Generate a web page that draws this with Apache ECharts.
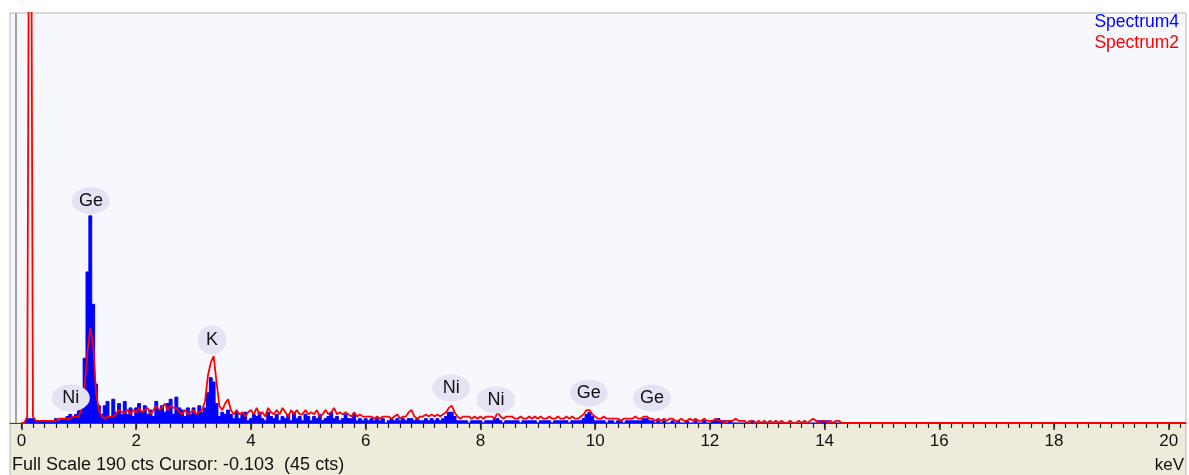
<!DOCTYPE html>
<html>
<head>
<meta charset="utf-8">
<script src="https://cdn.jsdelivr.net/npm/echarts@6/dist/echarts.min.js"></script>
<style>
  html, body { margin: 0; padding: 0; background: #ffffff; }
  #chart { width: 1189px; height: 475px; }
</style>
</head>
<body>
<div id="chart"></div>
<script>
// ---- data -------------------------------------------------------------
// channel width of the spectra below (keV); first channel at 0 keV
const channelKeV = 0.05;
const spectrumEndKeV = 20.3;

// Spectrum4 (blue), counts per 0.05 keV channel, 0.00 .. 14.50 keV
const spectrum4 = [
  0,0,2,2,2,1,1,1,1,1, 1,1,2,1,2,2,3,4,3,4,
  7,12,30,70,96,55,18,8,4,8, 10,3,11,5,9,4,10,4,7,3,
  7,9,5,8,4,6,3,10,6,8, 5,9,11,4,12,7,6,3,7,4,
  7,4,8,5,7,14,21,19,9,3, 5,4,6,4,2,5,2,4,5,1,
  2,4,3,5,2,1,5,3,2,4, 1,3,2,4,1,5,2,3,1,4,
  3,1,3,2,4,1,2,3,5,2, 3,1,2,4,2,2,4,1,2,1,
  2,1,2,1,2,1,2,0,1,2, 1,2,1,2,1,2,2,1,2,1,
  1,2,1,2,1,2,1,2,3,5, 5,3,1,1,1,1,0,1,1,1,
  1,0,1,1,1,2,2,1,0,1, 1,1,1,1,0,1,1,1,1,1,
  0,1,1,1,1,0,1,1,1,1, 1,0,1,1,1,1,2,4,5,3,
  1,1,1,1,0,1,1,0,1,1, 0,1,1,1,1,1,1,2,2,1,
  1,0,1,0,1,0,0,1,0,1, 0,0,1,0,0,1,0,0,1,0,
  0,1,1,2,1,1,0,1,0,0, 0,0,0,0,0,1,0,0,0,0,
  0,0,0,0,0,0,0,0,0,0, 0,0,0,0,0,0,0,0,1,1,
  1,1,0,0,0,0,0,0,0,0,0
];

// Spectrum2 (red), counts per 0.05 keV channel, 0.00 .. 14.50 keV
const spectrum2 = [
  0,0,3,400,3,1,1,1,1,1, 1,1,1,2,2,2,2,2,3,3,
  3,7,16,33,44,36,14,6,3,2, 3,3,3,4,6,5,5,6,4,6,
  5,7,5,6,7,4,6,8,6,7, 9,6,8,7,7,5,4,6,4,5,
  6,4,5,6,10,22,28,31,19,8, 6,9,11,6,4,6,4,5,3,5,
  6,4,7,4,5,3,7,5,4,6, 4,7,5,3,6,4,6,4,4,6,
  4,5,4,6,3,4,6,4,5,7, 4,5,4,5,4,3,5,3,4,3,
  3,3,3,2,3,2,3,3,3,2, 3,4,2,3,3,5,6,3,2,3,
  3,4,3,4,3,4,3,4,5,7, 8,5,3,2,3,3,3,2,3,2,
  3,2,3,3,3,2,5,3,2,3, 3,3,2,2,3,2,2,3,2,3,
  2,3,2,2,3,2,2,3,2,2, 3,2,3,2,2,3,4,6,6,4,
  3,2,2,3,2,2,2,2,2,1, 2,2,2,2,3,2,2,3,3,2,
  2,1,2,1,2,1,2,2,1,1, 2,1,1,2,1,2,1,1,2,1,
  1,1,2,1,1,0,1,1,1,2, 1,1,1,0,1,1,0,1,0,1,
  0,1,0,1,0,1,0,0,1,0, 0,1,0,1,0,1,2,1,0,1,
  1,0,1,0,1,1,0,0,0,0,0
];

// peak identification labels
const peakNames    = ['Ni', 'Ge', 'K', 'Ni', 'Ni', 'Ge', 'Ge'];
const peakKeV      = [0.86, 1.21, 3.32, 7.49, 8.27, 9.89, 10.99];
const peakLabelCts = [11.6, 103, 38.5, 16.2, 10.7, 13.9, 11.6];

// axis
const tickLabels = [0, 2, 4, 6, 8, 10, 12, 14, 16, 18, 20];
const fullScaleCts = 190;
const cursorKeV = -0.103;
const cursorCts = 45;
const legendNames = ['Spectrum4', 'Spectrum2'];

// ---- build ------------------------------------------------------------
const toPairs = arr => arr.map((v, i) => [Math.round(i * channelKeV * 100) / 100, v]);
const blueData = toPairs(spectrum4);
const redData = toPairs(spectrum2).concat([[spectrumEndKeV, 0]]);

const minorTicks = [];
for (let k = 0; k <= 101; k++) minorTicks.push(Math.round(k * 2) / 10);

const labelData = peakNames.map((n, i) => ({
  value: [peakKeV[i], peakLabelCts[i]],
  name: n,
  symbolSize: n === 'K' ? [29, 29] : [n.length * 17 + 4, 27]
}));

const FONT = '"Liberation Sans", Arial, Helvetica, sans-serif';
const chart = echarts.init(document.getElementById('chart'), null, { renderer: 'canvas' });

const xMin = -0.2;
chart.setOption({
  animation: false,
  backgroundColor: '#ffffff',
  grid: {
    left: 10, right: 3, top: 13, bottom: 52,
    show: true, backgroundColor: '#F7F8FE',
    borderColor: '#BEBAA6', borderWidth: 1
  },
  graphic: [
    { type: 'rect', z: -5, shape: { x: 10, y: 423, width: 1176, height: 53 },
      style: { fill: '#EEEBDB', stroke: '#BEBAA6', lineWidth: 1 } },
    { type: 'text', z: 10, style: { text: 'Full Scale ' + fullScaleCts + ' cts Cursor: ' + cursorKeV.toFixed(3) + '  (' + cursorCts + ' cts)',
      x: 12, y: 465, textVerticalAlign: 'middle', fill: '#111', font: '18px ' + FONT } },
    { type: 'text', z: 10, style: { text: 'keV', x: 1184, y: 465, textAlign: 'right',
      textVerticalAlign: 'middle', fill: '#111', font: '17px ' + FONT } },
    { type: 'text', z: 10, style: { text: legendNames[0], x: 1179, y: 22, textAlign: 'right',
      textVerticalAlign: 'middle', fill: '#0000FF', font: '17.5px ' + FONT } },
    { type: 'text', z: 10, style: { text: legendNames[1], x: 1179, y: 43, textAlign: 'right',
      textVerticalAlign: 'middle', fill: '#FF0000', font: '17.5px ' + FONT } }
  ],
  xAxis: [
    {
      type: 'value', min: xMin, max: spectrumEndKeV, position: 'bottom',
      axisLine: { show: true, lineStyle: { color: '#444', width: 1 } },
      axisTick: { show: true, customValues: tickLabels, length: 7, lineStyle: { color: '#222', width: 1.5 } },
      axisLabel: { show: true, customValues: tickLabels, color: '#111', fontSize: 17, fontFamily: FONT, margin: 10 },
      splitLine: { show: false }
    },
    {
      type: 'value', min: xMin, max: spectrumEndKeV, position: 'bottom',
      axisLine: { show: false },
      axisTick: { show: true, customValues: minorTicks, length: 5, lineStyle: { color: '#222', width: 1.2 } },
      axisLabel: { show: false },
      splitLine: { show: false }
    }
  ],
  yAxis: {
    type: 'value', min: 0, max: fullScaleCts, show: false, splitLine: { show: false }
  },
  series: [
    {
      name: legendNames[0], type: 'line', data: blueData, step: 'middle',
      showSymbol: false, symbol: 'none', clip: true, z: 2,
      lineStyle: { color: '#0000FF', width: 1 },
      areaStyle: { color: '#0000FF', opacity: 1 },
      markLine: {
        silent: true, symbol: 'none', animation: false,
        label: { show: false },
        lineStyle: { color: '#A3A3A3', width: 2, type: 'solid' },
        data: [{ xAxis: cursorKeV }]
      }
    },
    {
      name: legendNames[1], type: 'line', data: redData,
      showSymbol: false, symbol: 'none', clip: true, z: 3,
      lineStyle: { color: '#FF0000', width: 1.8 }
    },
    {
      name: 'labels', type: 'scatter', data: labelData, symbol: 'circle', z: 5,
      itemStyle: { color: '#E3E3F4', opacity: 1 },
      label: { show: true, position: 'inside', formatter: p => p.name, color: '#111',
        fontSize: 18, fontFamily: FONT }
    }
  ]
});
</script>
</body>
</html>
